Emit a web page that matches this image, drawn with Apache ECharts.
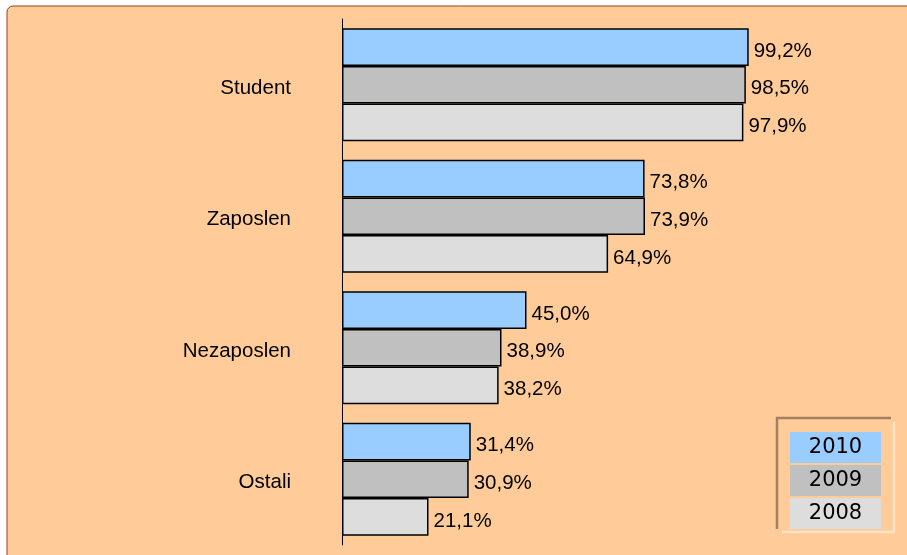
<!DOCTYPE html>
<html>
<head>
<meta charset="utf-8">
<script src="https://cdn.jsdelivr.net/npm/echarts@6/dist/echarts.min.js"></script>
<style>
html,body{margin:0;padding:0;background:#fff;}
#chart{width:907px;height:555px;}
</style>
</head>
<body>
<div id="chart"></div>
<script>
var categories = ['Student', 'Zaposlen', 'Nezaposlen', 'Ostali'];
var years = ['2010', '2009', '2008'];
var values2010 = [99.2, 73.8, 45.0, 31.4];
var values2009 = [98.5, 73.9, 38.9, 30.9];
var values2008 = [97.9, 64.9, 38.2, 21.1];
var colors = ['#99CCFF', '#C0C0C0', '#DDDDDD'];

var seriesValues = [values2010, values2009, values2008];

var chart = echarts.init(document.getElementById('chart'), null, {renderer: 'canvas'});

function fmt(p) {
  return p.value.toFixed(1).replace('.', ',') + '%';
}

var series = years.map(function (y, i) {
  return {
    name: y,
    type: 'bar',
    data: seriesValues[i],
    barGap: '0%',
    barCategoryGap: '14%',
    itemStyle: {color: colors[i], borderColor: '#000', borderWidth: 1.5},
    label: {
      show: true, position: 'right', distance: 5, offset: [0, 4],
      formatter: fmt, color: '#000', fontSize: 20.5,
      fontFamily: 'Liberation Sans, Arial, sans-serif'
    },
    emphasis: {disabled: true},
    animation: false
  };
});

var legendRich = {};
years.forEach(function (y, i) {
  legendRich['c' + i] = {
    backgroundColor: colors[i], width: 91, height: 31, lineHeight: 31,
    align: 'center', fontSize: 21, color: '#000',
    fontFamily: 'DejaVu Sans, Verdana, sans-serif'
  };
});

var option = {
  backgroundColor: '#ffffff',
  animation: false,
  graphic: [
    {type: 'rect', z: -10, silent: true,
     shape: {x: 7, y: 6, width: 930, height: 580, r: 6},
     style: {fill: '#FFCC99', stroke: '#A04010', lineWidth: 1}},
    {type: 'polyline', z: 10, silent: true,
     shape: {points: [[777, 529], [777, 418], [891, 418]]},
     style: {stroke: '#A3805F', lineWidth: 2.5, fill: null}},
    {type: 'polyline', z: 10, silent: true,
     shape: {points: [[782, 532], [894, 532], [894, 422]]},
     style: {stroke: '#FFE3C6', lineWidth: 2.5, fill: null}}
  ],
  grid: {left: 342, top: 19, width: 410, height: 526, containLabel: false},
  xAxis: {
    type: 'value', min: 0, max: 100,
    show: false
  },
  yAxis: {
    type: 'category', data: categories, inverse: true,
    axisLine: {show: true, lineStyle: {color: '#000', width: 1}},
    axisTick: {show: false},
    axisLabel: {
      color: '#000', margin: 51,
      formatter: function (v) { return '{a|' + v + '}'; },
      rich: {
        a: {fontSize: 20.5, color: '#000', padding: [7, 0, 0, 0],
            fontFamily: 'Liberation Sans, Arial, sans-serif'}
      }
    }
  },
  legend: {
    orient: 'vertical',
    left: 780, top: 427,
    icon: 'none', itemWidth: 0, itemHeight: 31, itemGap: 2,
    selectedMode: false,
    formatter: function (name) {
      return '{c' + years.indexOf(name) + '|' + name + '}';
    },
    textStyle: {rich: legendRich},
    data: years
  },
  series: series
};
chart.setOption(option);
</script>
</body>
</html>
